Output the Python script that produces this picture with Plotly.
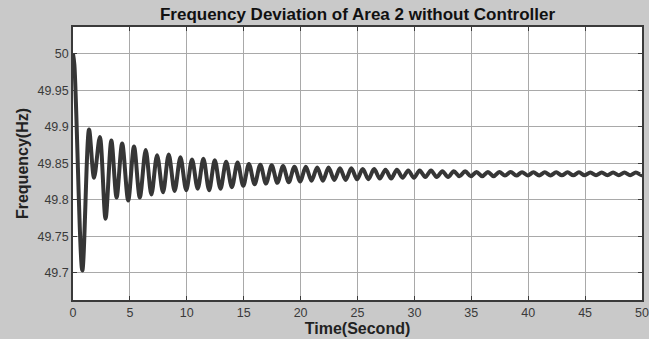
import plotly.graph_objects as go

# Time (s) of the samples read at the turning points of the curve
time_s = [0.0, 0.12, 0.82, 1.41, 1.85, 2.36, 2.86, 3.37, 3.83, 4.32, 4.85,
          5.36, 5.87, 6.39, 6.89, 7.39, 7.91, 8.41, 8.93, 9.44, 9.95,
          10.46, 10.96, 11.46, 11.96, 12.46, 12.96, 13.46, 13.96, 14.46, 14.96,
          15.46, 15.96, 16.46, 16.96, 17.46, 17.96, 18.46, 18.96, 19.46, 19.96,
          20.46, 20.96, 21.46, 21.96, 22.46, 22.96, 23.46, 23.96, 24.46, 24.96,
          25.46, 25.96, 26.46, 26.96, 27.46, 27.96, 28.46, 28.96, 29.46, 29.96,
          30.46, 30.96, 31.46, 31.96, 32.46, 32.96, 33.46, 33.96, 34.46, 34.96,
          35.46, 35.96, 36.46, 36.96, 37.46, 37.96, 38.46, 38.96, 39.46, 39.96,
          40.46, 40.96, 41.46, 41.96, 42.46, 42.96, 43.46, 43.96, 44.46, 44.96,
          45.46, 45.96, 46.46, 46.96, 47.46, 47.96, 48.46, 48.96, 49.46, 49.96, 50.0]

freq_hz = [50.000, 49.985, 49.703, 49.896, 49.830, 49.886, 49.774, 49.881, 49.803, 49.877, 49.799,
           49.873, 49.803, 49.868, 49.807, 49.861, 49.810, 49.862, 49.812, 49.858, 49.813,
           49.855, 49.815, 49.856, 49.813, 49.854, 49.815, 49.852, 49.817, 49.851, 49.819,
           49.849, 49.821, 49.848, 49.822, 49.847, 49.823, 49.846, 49.824, 49.845, 49.825,
           49.845, 49.826, 49.844, 49.826, 49.844, 49.827, 49.843, 49.827, 49.843, 49.828,
           49.842, 49.828, 49.842, 49.829, 49.841, 49.829, 49.841, 49.830, 49.840, 49.830,
           49.840, 49.831, 49.840, 49.831, 49.839, 49.831, 49.839, 49.832, 49.839, 49.832,
           49.838, 49.832, 49.838, 49.832, 49.838, 49.833, 49.838, 49.833, 49.8377, 49.8331,
           49.8376, 49.8332, 49.8375, 49.8332, 49.8375, 49.8333, 49.8374, 49.8333, 49.8374, 49.8334,
           49.8373, 49.8334, 49.8373, 49.8334, 49.8372, 49.8335, 49.8372, 49.8335, 49.8372, 49.8335, 49.835]

x_ticks = [0, 5, 10, 15, 20, 25, 30, 35, 40, 45, 50]
y_ticks = [49.7, 49.75, 49.8, 49.85, 49.9, 49.95, 50.0]
y_tick_text = ["49.7", "49.75", "49.8", "49.85", "49.9", "49.95", "50"]

title_text = "Frequency Deviation of Area 2 without Controller"
x_title = "Time(Second)"
y_title = "Frequency(Hz)"

fig = go.Figure()
fig.add_trace(go.Scatter(
    x=time_s, y=freq_hz, mode="lines",
    line=dict(color="#363636", width=4, shape="spline", smoothing=0.9),
    showlegend=False, hoverinfo="skip",
))

font_family = "Liberation Sans, Arial, sans-serif"

fig.update_layout(
    width=649, height=339,
    margin=dict(l=73, r=7, t=27, b=39, autoexpand=False),
    paper_bgcolor="#c9c9c9",
    plot_bgcolor="#ffffff",
    font=dict(family=font_family, size=12, color="#333333"),
    title=dict(text="<b>" + title_text + "</b>", x=0.5, xref="paper",
               y=1 - 14 / 339, yref="container", yanchor="middle", xanchor="center",
               font=dict(size=17, color="#111111", family=font_family)),
)

axis_common = dict(
    showline=True, linecolor="#3a3a3a", linewidth=1.5, mirror="ticks",
    ticks="inside", ticklen=4, tickcolor="#3a3a3a",
    showgrid=True, gridcolor="#a9a9a9", gridwidth=1,
    zeroline=False,
    tickfont=dict(size=12.5, color="#3a3a3a", family=font_family),
)

fig.update_xaxes(
    range=[0, 50], tickvals=x_ticks, ticktext=[str(v) for v in x_ticks],
    title=dict(text="<b>" + x_title + "</b>", standoff=1,
               font=dict(size=16, color="#222222", family=font_family)),
    **axis_common,
)
fig.update_yaxes(
    range=[49.6625, 50.0366], tickvals=y_ticks, ticktext=y_tick_text,
    title=dict(text="<b>" + y_title + "</b>", standoff=5,
               font=dict(size=16, color="#222222", family=font_family)),
    **axis_common,
)

fig.write_html("out.html")
